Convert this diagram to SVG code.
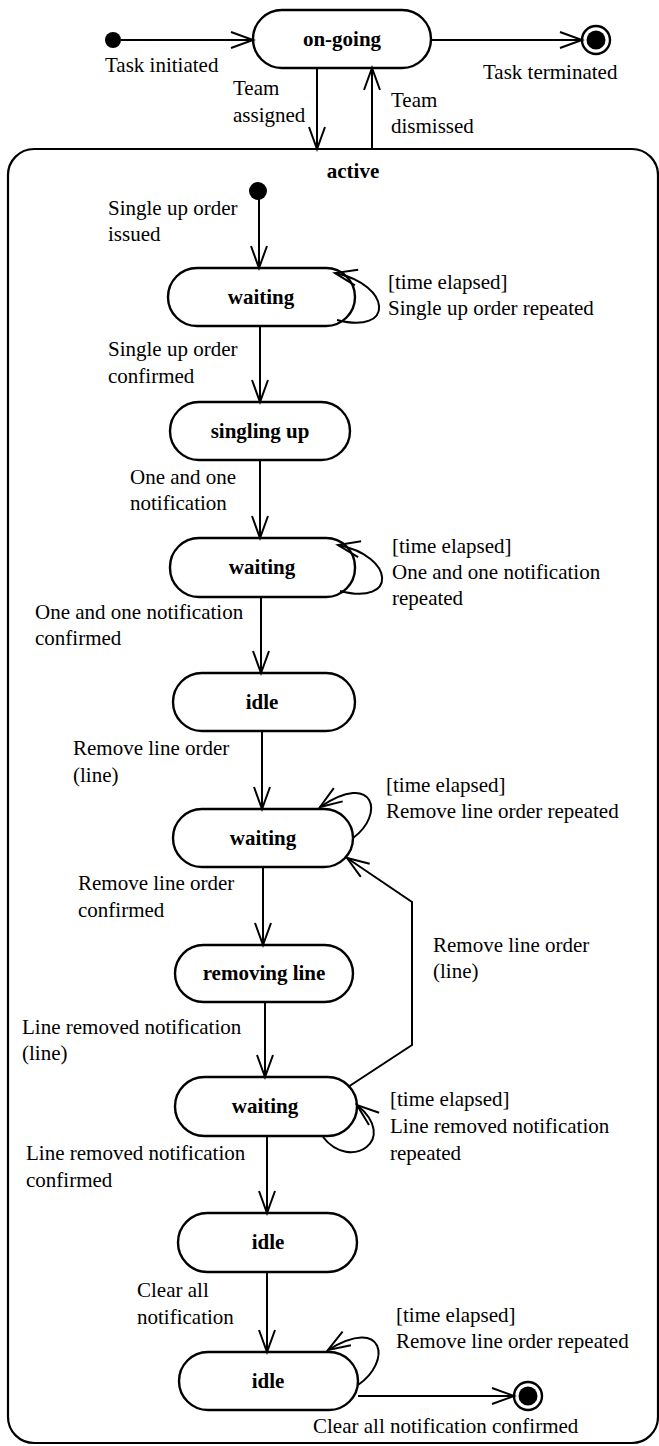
<svg xmlns="http://www.w3.org/2000/svg" width="659" height="1446" viewBox="0 0 659 1446">
<style>
  .st{fill:#fff;stroke:#000;stroke-width:2.4}
  .nm{font-family:"Liberation Serif","Tinos","DejaVu Serif",serif;font-size:21px;font-weight:bold;text-anchor:middle;fill:#000}
  .lb{font-family:"Liberation Serif","Tinos","DejaVu Serif",serif;font-size:21px;fill:#000}
  .ln{fill:none;stroke:#000;stroke-width:2}
</style>
<defs>
  <marker id="arr" markerUnits="userSpaceOnUse" markerWidth="26" markerHeight="20" viewBox="-1 -1 26 20" refX="22" refY="8" orient="auto">
    <path d="M0,0 L22,8 L0,16" fill="none" stroke="#000" stroke-width="2"/>
  </marker>
</defs>
<rect width="659" height="1446" fill="#fff"/>

<g id="active">
  <rect x="8" y="149" width="650" height="1294" rx="26" ry="26" fill="none" stroke="#000" stroke-width="2.2"/>
  <text class="nm" x="353" y="178">active</text>
</g>

<g id="init-top"><circle cx="113" cy="40" r="8" fill="#000"/></g>
<g id="final-top"><circle cx="596" cy="40" r="14" fill="#fff" stroke="#000" stroke-width="2.4"/><circle cx="596" cy="40" r="9.5" fill="#000"/></g>
<g id="init-active"><circle cx="258" cy="191" r="9" fill="#000"/></g>
<g id="final-active"><circle cx="528" cy="1396" r="14" fill="#fff" stroke="#000" stroke-width="2.4"/><circle cx="528" cy="1396" r="9.5" fill="#000"/></g>

<g id="on-going"><rect class="st" x="253" y="10" width="178" height="58" rx="29"/><text class="nm" x="342" y="46">on-going</text></g>
<g id="waiting1"><rect class="st" x="168" y="268" width="187" height="58" rx="29"/><text class="nm" x="261" y="304">waiting</text></g>
<g id="singling-up"><rect class="st" x="170" y="402" width="180" height="58" rx="29"/><text class="nm" x="260" y="438">singling up</text></g>
<g id="waiting2"><rect class="st" x="170" y="538" width="185" height="59" rx="29"/><text class="nm" x="262" y="574">waiting</text></g>
<g id="idle1"><rect class="st" x="173" y="673" width="182" height="58" rx="29"/><text class="nm" x="262" y="709">idle</text></g>
<g id="waiting3"><rect class="st" x="173" y="809" width="180" height="58" rx="29"/><text class="nm" x="263" y="845">waiting</text></g>
<g id="removing-line"><rect class="st" x="175" y="945" width="178" height="57" rx="28.5"/><text class="nm" x="264" y="980">removing line</text></g>
<g id="waiting4"><rect class="st" x="175" y="1077" width="182" height="59" rx="29.5"/><text class="nm" x="265" y="1113">waiting</text></g>
<g id="idle2"><rect class="st" x="178" y="1213" width="179" height="59" rx="29.5"/><text class="nm" x="268" y="1249">idle</text></g>
<g id="idle3"><rect class="st" x="179" y="1352" width="179" height="58" rx="29"/><text class="nm" x="268" y="1388">idle</text></g>

<g id="connectors">
  <line class="ln" x1="121" y1="40" x2="253" y2="40" marker-end="url(#arr)"/>
  <line class="ln" x1="431" y1="40" x2="582" y2="40" marker-end="url(#arr)"/>
  <line class="ln" x1="317" y1="68" x2="317" y2="149" marker-end="url(#arr)"/>
  <line class="ln" x1="372" y1="149" x2="372" y2="68" marker-end="url(#arr)"/>
  <line class="ln" x1="259" y1="199" x2="259" y2="268" marker-end="url(#arr)"/>
  <line class="ln" x1="260" y1="326" x2="260" y2="402" marker-end="url(#arr)"/>
  <line class="ln" x1="260" y1="460" x2="260" y2="538" marker-end="url(#arr)"/>
  <line class="ln" x1="261" y1="597" x2="261" y2="673" marker-end="url(#arr)"/>
  <line class="ln" x1="262" y1="731" x2="262" y2="809" marker-end="url(#arr)"/>
  <line class="ln" x1="263" y1="867" x2="263" y2="945" marker-end="url(#arr)"/>
  <line class="ln" x1="265" y1="1002" x2="265" y2="1077" marker-end="url(#arr)"/>
  <line class="ln" x1="267" y1="1136" x2="267" y2="1213" marker-end="url(#arr)"/>
  <line class="ln" x1="267" y1="1272" x2="267" y2="1352" marker-end="url(#arr)"/>
  <line class="ln" x1="358" y1="1396" x2="514" y2="1396" marker-end="url(#arr)"/>
  <polyline class="ln" points="348,1087 412,1045 412,902 347,858" marker-end="url(#arr)"/>
  <path class="ln" d="M337,320 C395,335 392,285 335,273" marker-end="url(#arr)"/>
  <path class="ln" d="M340,591 C398,606 395,556 338,545" marker-end="url(#arr)"/>
  <path class="ln" d="M353,838 C385,815 375,770 320,807" marker-end="url(#arr)"/>
  <path class="ln" d="M323,1137 C350,1172 400,1140 357,1105" marker-end="url(#arr)"/>
  <path class="ln" d="M358,1385 C392,1362 385,1315 328,1350" marker-end="url(#arr)"/>
</g>

<g id="labels">
  <text class="lb" x="105" y="72">Task initiated</text>
  <text class="lb" x="483" y="79">Task terminated</text>
  <text class="lb" x="233" y="95">Team</text>
  <text class="lb" x="233" y="122">assigned</text>
  <text class="lb" x="391" y="107">Team</text>
  <text class="lb" x="391" y="133">dismissed</text>
  <text class="lb" x="108" y="215">Single up order</text>
  <text class="lb" x="108" y="241">issued</text>
  <text class="lb" x="388" y="289">[time elapsed]</text>
  <text class="lb" x="388" y="315">Single up order repeated</text>
  <text class="lb" x="108" y="356">Single up order</text>
  <text class="lb" x="108" y="383">confirmed</text>
  <text class="lb" x="130" y="484">One and one</text>
  <text class="lb" x="130" y="510">notification</text>
  <text class="lb" x="392" y="553">[time elapsed]</text>
  <text class="lb" x="392" y="579">One and one notification</text>
  <text class="lb" x="392" y="605">repeated</text>
  <text class="lb" x="35" y="619">One and one notification</text>
  <text class="lb" x="35" y="645">confirmed</text>
  <text class="lb" x="73" y="755">Remove line order</text>
  <text class="lb" x="73" y="782">(line)</text>
  <text class="lb" x="386" y="792">[time elapsed]</text>
  <text class="lb" x="386" y="818">Remove line order repeated</text>
  <text class="lb" x="78" y="890">Remove line order</text>
  <text class="lb" x="78" y="917">confirmed</text>
  <text class="lb" x="433" y="952">Remove line order</text>
  <text class="lb" x="433" y="978">(line)</text>
  <text class="lb" x="22" y="1034">Line removed notification</text>
  <text class="lb" x="22" y="1060">(line)</text>
  <text class="lb" x="390" y="1106">[time elapsed]</text>
  <text class="lb" x="390" y="1133">Line removed notification</text>
  <text class="lb" x="390" y="1160">repeated</text>
  <text class="lb" x="26" y="1160">Line removed notification</text>
  <text class="lb" x="26" y="1187">confirmed</text>
  <text class="lb" x="137" y="1297">Clear all</text>
  <text class="lb" x="137" y="1324">notification</text>
  <text class="lb" x="396" y="1322">[time elapsed]</text>
  <text class="lb" x="396" y="1348">Remove line order repeated</text>
  <text class="lb" x="313" y="1433">Clear all notification confirmed</text>
</g>
</svg>
